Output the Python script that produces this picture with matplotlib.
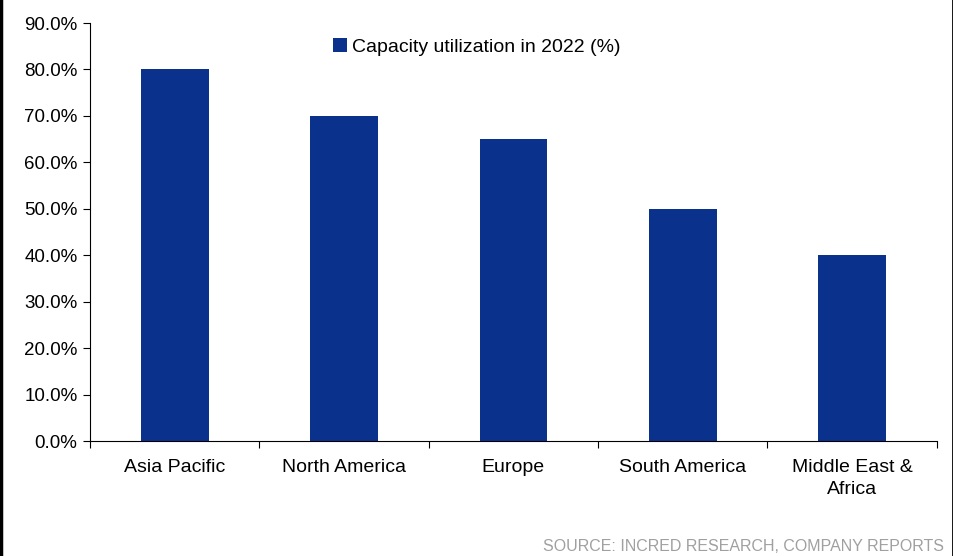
import matplotlib.pyplot as plt
from matplotlib.ticker import PercentFormatter
from matplotlib.lines import Line2D

regions = ["Asia Pacific", "North America", "Europe", "South America", "Middle East &\nAfrica"]
utilization = [80.0, 70.0, 65.0, 50.0, 40.0]
series_name = "Capacity utilization in 2022 (%)"
source = "SOURCE: INCRED RESEARCH, COMPANY REPORTS"

plt.rcParams['font.family'] = ['Liberation Sans', 'DejaVu Sans']

fig = plt.figure(figsize=(9.54, 5.56), dpi=100)
ax = fig.add_axes([0.0943, 0.2068, 0.8877, 0.7518])

x = range(len(regions))
ax.bar(x, utilization, width=0.4, color="#0A318C", label=series_name)

ax.set_xlim(-0.5, len(regions) - 0.5)
ax.set_ylim(0, 90)
ax.set_yticks(range(0, 91, 10))
ax.yaxis.set_major_formatter(PercentFormatter(decimals=1))
ax.set_xticks([i - 0.5 for i in range(len(regions) + 1)])
ax.set_xticklabels([])
ax.set_xticks(list(x), minor=True)
ax.set_xticklabels(regions, minor=True, fontsize=14, linespacing=1.35)
ax.tick_params(axis="x", which="minor", length=0, pad=13)
ax.tick_params(axis="x", which="major", length=5, direction="out")
ax.tick_params(axis="y", length=5, labelsize=13.5, pad=4)

for s in ["top", "right"]:
    ax.spines[s].set_visible(False)

ax.legend(loc="upper left", frameon=False, fontsize=14, handlelength=0.7,
          handleheight=0.7, handletextpad=0.3, borderaxespad=0, borderpad=0,
          bbox_to_anchor=(333 / 954, 1 - 38 / 556), bbox_transform=fig.transFigure)

fig.text(0.989, 0.003, source, ha="right", va="bottom", fontsize=11.5, color="#A0A0A0")

# black frame lines at left and right edges
fig.add_artist(Line2D([0.001, 0.001], [0, 1], color="black", lw=2.5, transform=fig.transFigure))
fig.add_artist(Line2D([0.9985, 0.9985], [0, 1], color="black", lw=2, transform=fig.transFigure))

fig.savefig("out.png", dpi=100)
